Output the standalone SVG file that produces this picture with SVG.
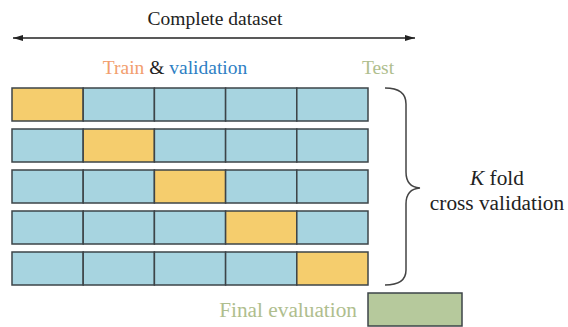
<svg xmlns="http://www.w3.org/2000/svg" width="568" height="327" viewBox="0 0 568 327" font-family="'Liberation Serif', 'Times New Roman', 'DejaVu Serif', serif">
<defs>
<marker id="ah" viewBox="0 0 10 6" refX="10" refY="3" markerWidth="10" markerHeight="6" markerUnits="userSpaceOnUse" orient="auto-start-reverse"><path d="M0,0 L10,3 L0,6 Z" fill="#222"/></marker>
<style>
text{font-family:'Liberation Serif','Times New Roman','DejaVu Serif',serif;font-size:19.5px}
.lg{font-size:21.3px}
.k{fill:#222}
.or{fill:#F29E6E}
.bl{fill:#2E7FC4}
.gr{fill:#AFBE8E}
.b{fill:#A7D4E0;stroke:#3d4448;stroke-width:1.5}
.y{fill:#F5CD6D;stroke:#3d4448;stroke-width:1.5}
.g{fill:#B6C99C;stroke:#3d4448;stroke-width:1.5}
</style>
</defs>
<rect width="568" height="327" fill="#fff"/>
<g id="title"><text class="k" x="215" y="25" text-anchor="middle">Complete dataset</text></g>
<g id="connectors"><line x1="13" y1="38" x2="415" y2="38" stroke="#222" stroke-width="1.3" marker-start="url(#ah)" marker-end="url(#ah)"/></g>
<g id="labels">
<text class="k" x="175" y="74" text-anchor="middle"><tspan class="or">Train</tspan> &amp; <tspan class="bl">validation</tspan></text>
<text class="gr" x="378" y="74" text-anchor="middle">Test</text>
</g>
<g id="fold1">
<rect class="y" x="12" y="88" width="71.2" height="33"/><rect class="b" x="83.2" y="88" width="71.2" height="33"/><rect class="b" x="154.4" y="88" width="71.2" height="33"/><rect class="b" x="225.6" y="88" width="71.2" height="33"/><rect class="b" x="296.8" y="88" width="71.2" height="33"/>
</g>
<g id="fold2">
<rect class="b" x="12" y="129" width="71.2" height="33"/><rect class="y" x="83.2" y="129" width="71.2" height="33"/><rect class="b" x="154.4" y="129" width="71.2" height="33"/><rect class="b" x="225.6" y="129" width="71.2" height="33"/><rect class="b" x="296.8" y="129" width="71.2" height="33"/>
</g>
<g id="fold3">
<rect class="b" x="12" y="170" width="71.2" height="33"/><rect class="b" x="83.2" y="170" width="71.2" height="33"/><rect class="y" x="154.4" y="170" width="71.2" height="33"/><rect class="b" x="225.6" y="170" width="71.2" height="33"/><rect class="b" x="296.8" y="170" width="71.2" height="33"/>
</g>
<g id="fold4">
<rect class="b" x="12" y="211" width="71.2" height="33"/><rect class="b" x="83.2" y="211" width="71.2" height="33"/><rect class="b" x="154.4" y="211" width="71.2" height="33"/><rect class="y" x="225.6" y="211" width="71.2" height="33"/><rect class="b" x="296.8" y="211" width="71.2" height="33"/>
</g>
<g id="fold5">
<rect class="b" x="12" y="252" width="71.2" height="33"/><rect class="b" x="83.2" y="252" width="71.2" height="33"/><rect class="b" x="154.4" y="252" width="71.2" height="33"/><rect class="b" x="225.6" y="252" width="71.2" height="33"/><rect class="y" x="296.8" y="252" width="71.2" height="33"/>
</g>
<g id="brace">
<path d="M385,88 Q406,88 406,104 L406,172 Q406,187 420,188 Q406,189 406,204 L406,270 Q406,285 385,285" fill="none" stroke="#444" stroke-width="1.5"/>
<text class="k lg" x="497" y="185" text-anchor="middle"><tspan font-style="italic">K</tspan> fold</text>
<text class="k lg" x="497" y="210" text-anchor="middle">cross validation</text>
</g>
<g id="final">
<text class="gr lg" x="357" y="317" text-anchor="end">Final evaluation</text>
<rect class="g" x="368" y="293" width="94" height="33"/>
</g>
</svg>
